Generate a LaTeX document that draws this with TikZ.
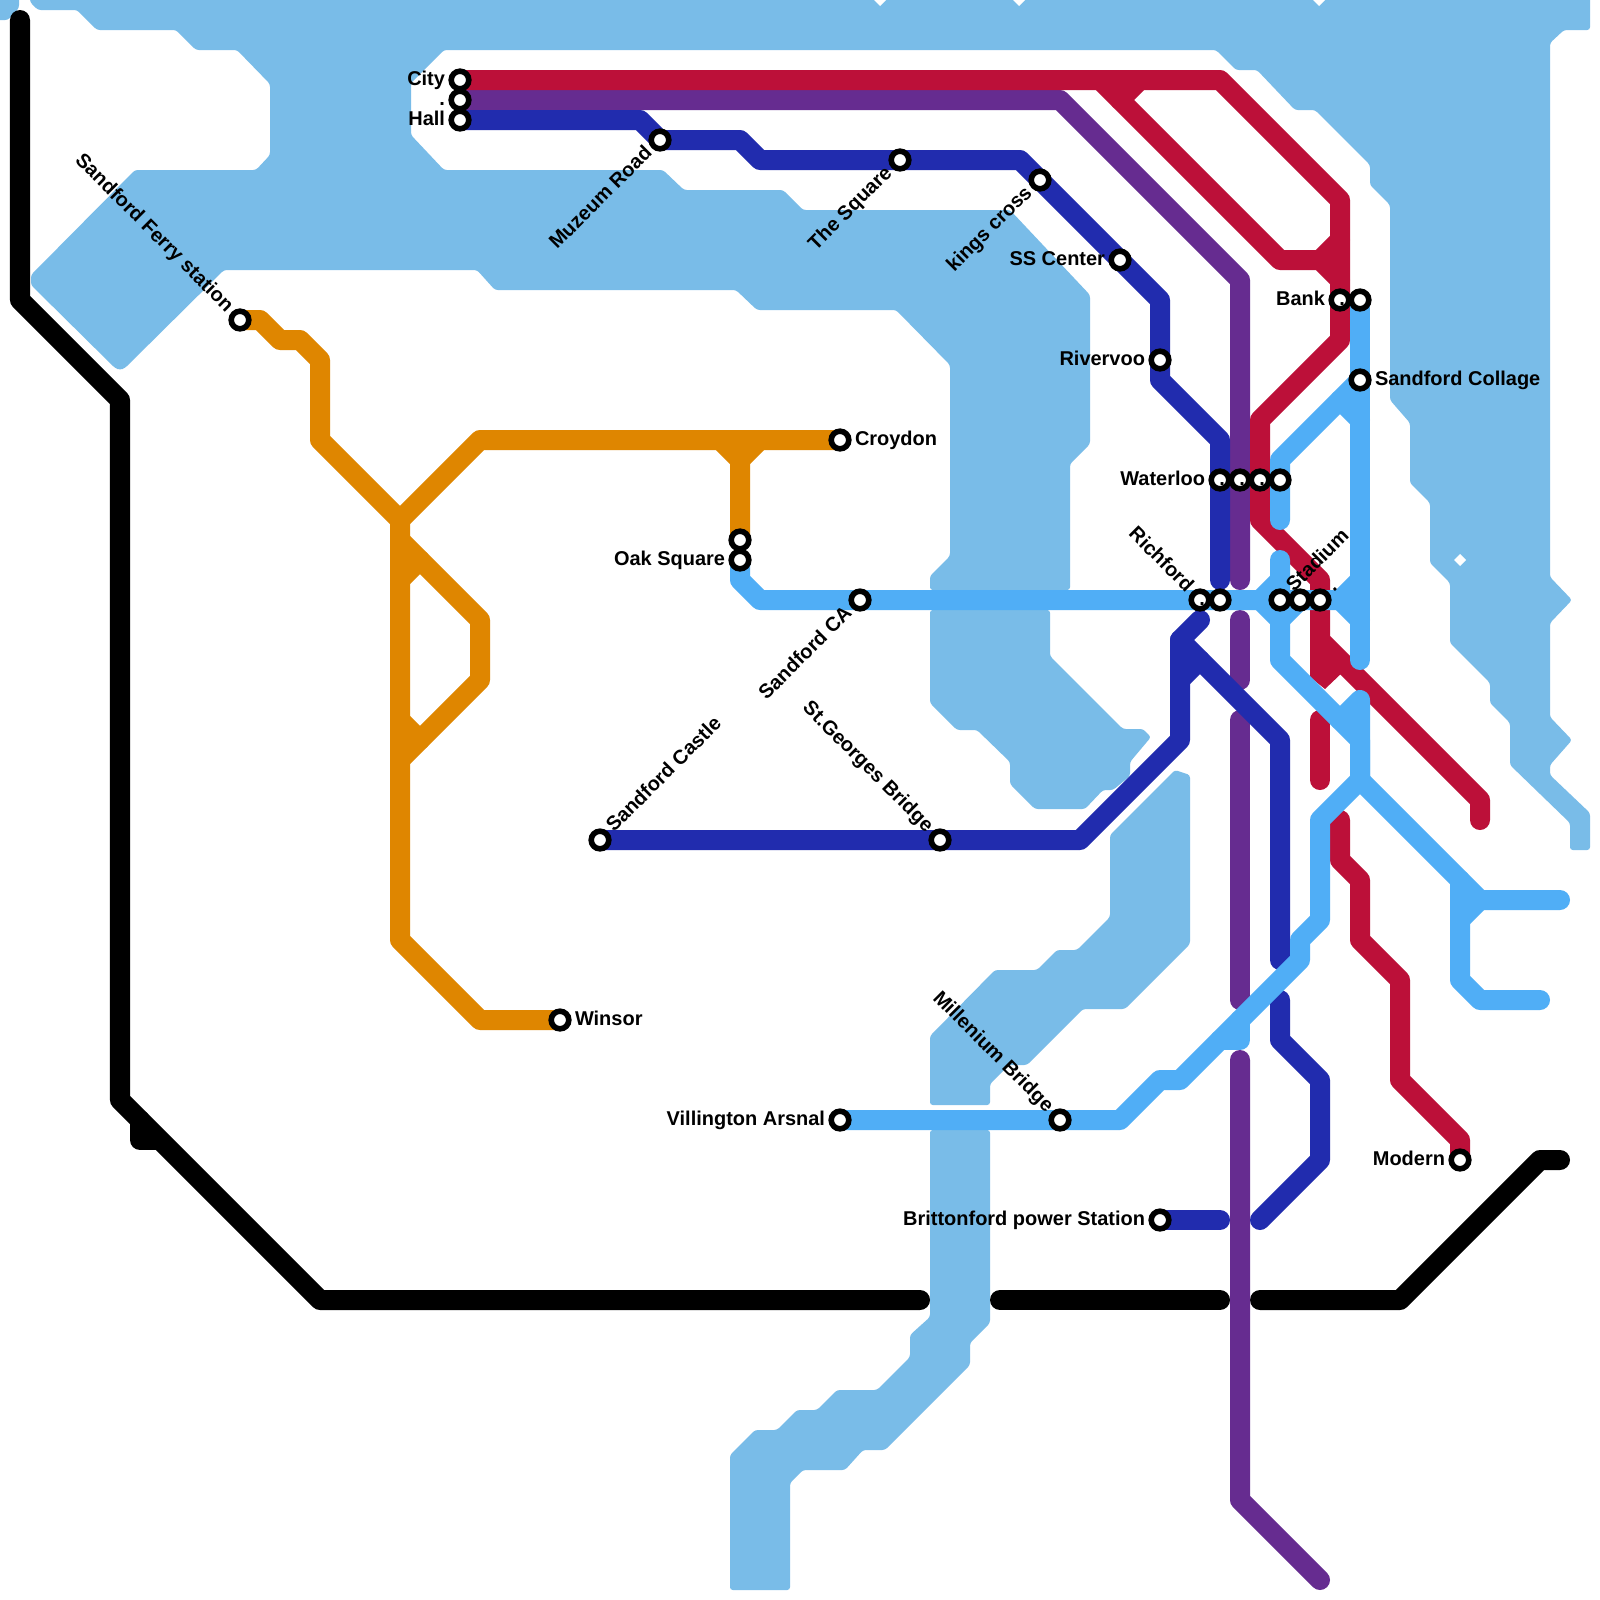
\documentclass[tikz,border=0pt]{standalone}
\usepackage{fontspec}
\setmainfont{Liberation Sans}
\pgfdeclarelayer{water}
\pgfdeclarelayer{lines}
\pgfsetlayers{water,lines,main}
\definecolor{waterc}{HTML}{79BCE8}
\definecolor{skyc}{HTML}{50AEF6}
\definecolor{redc}{HTML}{BC1039}
\definecolor{purplec}{HTML}{662C90}
\definecolor{bluec}{HTML}{212CAE}
\definecolor{orangec}{HTML}{DF8600}
\tikzset{
  ln/.style={line width=0.5cm,line cap=round,line join=round},
  blk/.style={ln,draw=black},
  org/.style={ln,draw=orangec},
  sky/.style={ln,draw=skyc},
  rd/.style={ln,draw=redc},
  ppl/.style={ln,draw=purplec},
  blu/.style={ln,draw=bluec},
  wat/.style={fill=waterc,rounded corners=0.07cm},
  stn/.style={circle,draw=black,fill=white,line width=0.14cm,minimum size=0.44cm,inner sep=0pt,outer sep=0pt},
  lb/.style={inner sep=0pt,outer sep=0pt,font=\bfseries\fontsize{14.2pt}{16pt}\selectfont},
  lL/.style={lb,anchor=base east,xshift=-0.375cm,yshift=-0.125cm},
  lR/.style={lb,anchor=base west,xshift=0.375cm,yshift=-0.125cm},
  lUL/.style={lb,rotate=45,anchor=base east,xshift=-0.375cm,yshift=-0.125cm},
  lUR/.style={lb,rotate=45,anchor=base west,xshift=0.375cm,yshift=-0.125cm},
  lDL/.style={lb,rotate=-45,anchor=base east,xshift=-0.375cm,yshift=-0.125cm},
}
\begin{document}
\begin{tikzpicture}[x=0.025cm,y=-0.025cm]
\useasboundingbox (0,0) rectangle (1600,1600);
% stations
\foreach \n/\x/\y in {city/460/80,mid/460/100,hall/460/120,muzeum/660/140,square/900/160,kings/1040/180,ss/1120/260,river/1160/360,
  bank/1340/300,bankb/1360/300,collage/1360/380,wa/1220/480,wb/1240/480,wc/1260/480,wd/1280/480,
  ra/1200/600,rb/1220/600,sa/1280/600,sb/1300/600,sc/1320/600,ferry/240/320,croydon/840/440,oaka/740/540,oak/740/560,
  ca/860/600,castle/600/840,george/940/840,winsor/560/1020,vill/840/1120,mill/1060/1120,britt/1160/1220,modern/1460/1160}
  {\node[stn] (\n) at (\x,\y) {};}
\begin{pgfonlayer}{water}
\fill[white] (0,0) rectangle (1600,1600);
% top region
\fill[wat] (0,-5) -- (19,-5) -- (19,8) -- (8,20) -- (-5,20) -- cycle;
\fill[wat] (30,-5) -- (30,2) -- (38,10) -- (77,10) -- (97,30) -- (176,30) -- (196,50) -- (237,50) -- (270,84) -- (270,155) -- (256,170) -- (135,170) -- (31,275) -- (31,285) -- (115,368) -- (120,370) -- (125,368) -- (224,270) -- (477,270) -- (495,290) -- (736,290) -- (757,310) -- (896,310) -- (950,365) -- (950,556) -- (930,576) -- (930,590) -- (1070,590) -- (1070,464) -- (1090,444) -- (1090,295) -- (1010,210) -- (803,210) -- (783,190) -- (684,190) -- (663,170) -- (444,170) -- (411,135) -- (411,83) -- (444,50) -- (1216,50) -- (1236,70) -- (1257,70) -- (1295,110) -- (1315,110) -- (1370,165) -- (1370,185) -- (1390,205) -- (1390,400) -- (1410,423) -- (1410,483) -- (1430,503) -- (1430,563) -- (1450,583) -- (1450,643) -- (1490,683) -- (1490,703) -- (1510,723) -- (1510,765) -- (1570,823) -- (1570,850) -- (1590,850) -- (1590,813) -- (1550,775) -- (1550,765) -- (1572,740) -- (1550,717) -- (1550,623) -- (1572,600) -- (1550,577) -- (1550,43) -- (1564,30) -- (1590,30) -- (1590,-5) -- cycle;
\fill[white] (873,-1) -- (887,-1) -- (880,6) -- cycle;
\fill[white] (1012,-1) -- (1026,-1) -- (1019,6) -- cycle;
\fill[white] (1312,-1) -- (1326,-1) -- (1319,6) -- cycle;
\fill[white] (1460,554) -- (1466,560) -- (1460,566) -- (1454,560) -- cycle;
% middle island
\fill[wat] (930,610) -- (1050,610) -- (1050,656) -- (1123,729) -- (1143,729) -- (1151,737) -- (1130,762) -- (1130,776) -- (1113,790) -- (1103,790) -- (1085,809) -- (1035,809) -- (1010,784) -- (1010,762) -- (977,730) -- (957,730) -- (930,703) -- cycle;
% lower right island
\fill[wat] (1175,770) -- (1190,775) -- (1190,944) -- (1125,1009) -- (1083,1009) -- (1027,1065) -- (1009,1065) -- (990,1084) -- (990,1105) -- (930,1105) -- (930,1036) -- (995,970) -- (1037,970) -- (1057,950) -- (1077,950) -- (1110,917) -- (1110,835) -- cycle;
% bottom
\fill[wat] (930,1130) -- (990,1130) -- (990,1323) -- (970,1343) -- (970,1365) -- (885,1450) -- (863,1450) -- (845,1470) -- (803,1470) -- (790,1483) -- (790,1590) -- (730,1590) -- (730,1455) -- (755,1430) -- (777,1430) -- (797,1410) -- (817,1410) -- (837,1390) -- (877,1390) -- (910,1357) -- (910,1335) -- (930,1317) -- cycle;
\end{pgfonlayer}
\begin{pgfonlayer}{lines}
% black
\coordinate (bk1) at (20,20);
\coordinate (bk2) at (920,1300);
\coordinate (bk3) at (1000,1300);
\coordinate (bk4) at (1220,1300);
\coordinate (bk5) at (1260,1300);
\coordinate (bk6) at (1560,1160);
\draw[blk] (bk1) -- (20,300) -- (120,400) -- (120,1100) -- (320,1300) -- (bk2);
\draw[blk] (bk3) -- (bk4);
\draw[blk] (bk5) -- (1400,1300) -- (1540,1160) -- (bk6);
\draw[blk] (140,1120) -- (140,1140) -- (155,1140);
% orange
\draw[org] (ferry.center) -- (260,320) -- (280,340) -- (300,340) -- (320,360) -- (320,440) -- (400,520) -- (400,940) -- (480,1020) -- (winsor.center);
\draw[org] (400,520) -- (480,440) -- (croydon.center);
\draw[org] (720,440) -- (740,460) -- (oaka.center);
\draw[org] (760,440) -- (740,460);
\draw[org] (400,540) -- (480,620) -- (480,680) -- (400,760);
\draw[org] (400,580) -- (420,560);
\draw[org] (400,720) -- (420,740);
% purple
\draw[ppl] (mid.center) -- (1060,100) -- (1240,280) -- (1240,580);
\draw[ppl] (1240,620) -- (1240,680);
\draw[ppl] (1240,720) -- (1240,1000);
\draw[ppl] (1240,1060) -- (1240,1500) -- (1320,1580);
% blue
\draw[blu] (hall.center) -- (640,120) -- (muzeum.center) -- (740,140) -- (760,160) -- (square.center) -- (1020,160) -- (kings.center) -- (ss.center) -- (1160,300) -- (river.center) -- (1160,380) -- (1220,440) -- (wa.center) -- (1220,580);
\draw[blu] (castle.center) -- (george.center) -- (1080,840) -- (1180,740) -- (1180,640) -- (1200,620);
\draw[blu] (1180,640) -- (1280,740) -- (1280,960);
\draw[blu] (1180,680) -- (1200,660);
\draw[blu] (1280,1000) -- (1280,1040) -- (1320,1080) -- (1320,1160) -- (1260,1220);
\draw[blu] (britt.center) -- (1220,1220);
% red
\draw[rd] (city.center) -- (1220,80) -- (1340,200) -- (bank.center) -- (1340,340) -- (1260,420) -- (wc.center) -- (1260,520) -- (1320,580) -- (sc.center) -- (1320,640) -- (1480,800) -- (1480,820);
\draw[rd] (1100,80) -- (1280,260) -- (1320,260) -- (1340,280);
\draw[rd] (1140,80) -- (1120,100);
\draw[rd] (1340,240) -- (1320,260);
\fill[redc] (1310,640) -- (1310,677) -- (1325,689) -- (1345,670) -- (1330,640) -- cycle;
\draw[rd] (1320,720) -- (1320,780);
\draw[rd] (1340,820) -- (1340,860) -- (1360,880) -- (1360,940) -- (1400,980) -- (1400,1080) -- (1460,1140) -- (modern.center);
% sky
\draw[sky] (vill.center) -- (mill.center) -- (1120,1120) -- (1160,1080) -- (1180,1080) -- (1300,960) -- (1300,940) -- (1320,920) -- (1320,820) -- (1360,780) -- (1360,700) -- (1340,720);
\draw[sky] (1220,1040) -- (1240,1040) -- (1240,1020);
\draw[sky] (1360,780) -- (1480,900) -- (1560,900);
\draw[sky] (1460,880) -- (1460,980) -- (1480,1000) -- (1540,1000);
\draw[sky] (1460,920) -- (1480,900);
\draw[sky] (oak.center) -- (740,580) -- (760,600) -- (ca.center) -- (ra.center) -- (rb.center) -- (1260,600) -- (sa.center) -- (sb.center) -- (sc.center) -- (1340,600);
\draw[sky] (1260,600) -- (1280,580);
\draw[sky] (1260,600) -- (1280,620);
\draw[sky] (1280,560) -- (sa.center) -- (1280,660) -- (1360,740) -- (1360,780);
\draw[sky] (1280,620) -- (1300,600);
\draw[sky] (1340,600) -- (1360,580);
\draw[sky] (1340,600) -- (1360,620);
\draw[sky] (bankb.center) -- (collage.center) -- (1360,660);
\draw[sky] (collage.center) -- (1280,460) -- (wd.center) -- (1280,520);
\draw[sky] (1340,400) -- (1360,420);
\end{pgfonlayer}
% labels
\node[lL] (tcity) at (city) {City};
\node[lL] (tmid) at (mid) {.};
\node[lL] (thall) at (hall) {Hall};
\node[lUL] (tmuz) at (muzeum) {Muzeum Road};
\node[lUL] (tsq) at (square) {The Square};
\node[lUL] (tkings) at (kings) {kings cross};
\node[lL] (tss) at (ss) {SS Center};
\node[lL] (triv) at (river) {Rivervoo};
\node[lL] (tbank) at (bank) {Bank};
\node[lL] (tbankb) at (bankb) {.};
\node[lR] (tcol) at (collage) {Sandford Collage};
\node[lL] (twa) at (wa) {Waterloo};
\node[lL] (twb) at (wb) {.};
\node[lL] (twc) at (wc) {.};
\node[lL] (twd) at (wd) {.};
\node[lDL] (tra) at (ra) {Richford};
\node[lL] (trb) at (rb) {.};
\node[lUR] (tsa) at (sa) {Stadium};
\node[lUR] (tsc) at (sc) {.};
\node[lDL] (tferry) at (ferry) {Sandford Ferry station};
\node[lR] (tcroy) at (croydon) {Croydon};
\node[lL] (toak) at (oak) {Oak Square};
\node[lUL] (tca) at (ca) {Sandford CA};
\node[lUR] (tcastle) at (castle) {Sandford Castle};
\node[lDL] (tgeo) at (george) {St.Georges Bridge};
\node[lR] (twin) at (winsor) {Winsor};
\node[lL] (tvill) at (vill) {Villington Arsnal};
\node[lDL] (tmill) at (mill) {Millenium Bridge};
\node[lL] (tbritt) at (britt) {Brittonford power Station};
\node[lL] (tmod) at (modern) {Modern};
\end{tikzpicture}
\end{document}
